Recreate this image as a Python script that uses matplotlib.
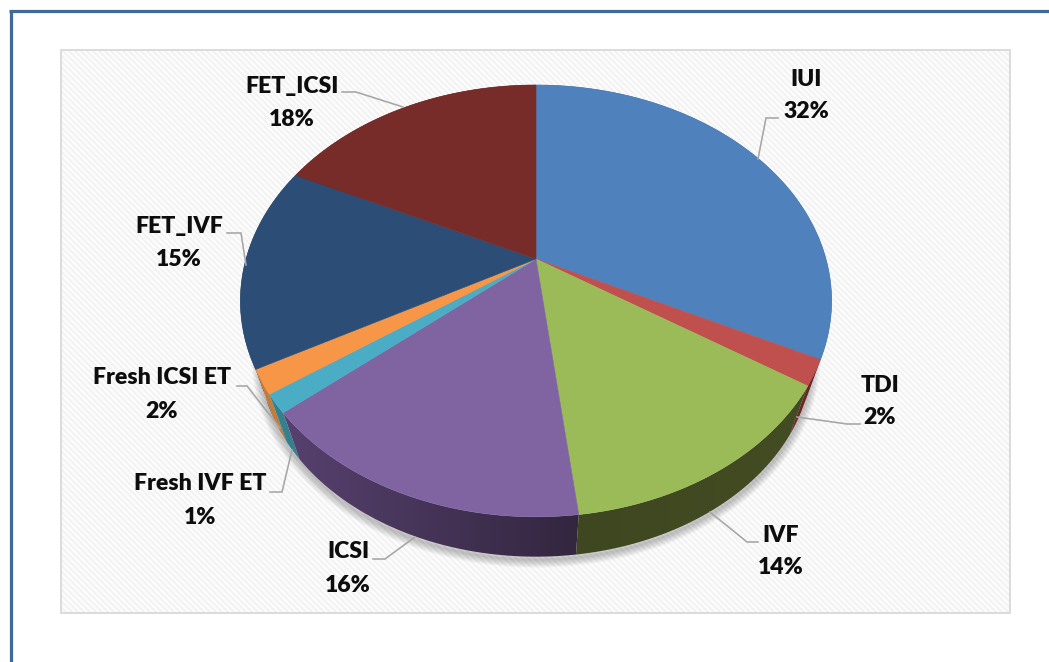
import numpy as np
import matplotlib
matplotlib.use("Agg")
import matplotlib.pyplot as plt
from matplotlib.patches import Polygon, Rectangle
from matplotlib.collections import LineCollection

categories = ["IUI", "TDI", "IVF", "ICSI", "Fresh IVF ET", "Fresh ICSI ET", "FET_IVF", "FET_ICSI"]
shares = [32.3, 1.9, 13.9, 15.7, 1.4, 1.8, 15.2, 17.8]
top_colors = ["#4f81bd", "#c0504d", "#9bbb59", "#8064a2", "#4bacc6", "#f79646", "#2c4d75", "#772c2a"]
side_colors = [("#2f4d71", "#2f4d71"), ("#6e2523", "#6e2523"), ("#3e4720", "#434c22"),
               ("#57416f", "#33263f"), ("#35808f", "#35808f"), ("#c67b36", "#c67b36"),
               ("#1c3350", "#1c3350"), ("#4d1c1b", "#4d1c1b")]
label_pos = [(806, 79), (880, 385), (781, 535), (348, 552), (200, 484), (162, 378), (179, 226), (292, 86)]
leaders = [[(778, 118), (766, 118), (758, 159)],
           [(860, 424), (847, 424), (797, 417)],
           [(758, 542), (747, 542), (710, 512)],
           [(373, 559), (385, 559), (415, 537)],
           [(270, 492), (282, 492), (292, 450)],
           [(237, 386), (247, 386), (280, 428)],
           [(227, 233), (241, 233), (246, 265)],
           [(342, 92), (356, 92), (403, 107)]]

CX, CY, A, B, K = 536.0, 259.0, 290.0, 207.8, 0.194
VY, S = 1130.0, 0.935


def rim(theta):
    u, v = np.sin(theta), np.cos(theta)
    w = 1 + K * v
    return CX + A * u / w, CY - B * v / w


def lower(x, y):
    return CX + S * (x - CX), VY + S * (y - VY)


fig = plt.figure(figsize=(10.49, 6.62), dpi=100)
ax = fig.add_axes([0, 0, 1, 1])
px = 0.72

# frame
ax.plot([10.5, 10.5], [662, 10.5], color="#41699b", lw=3.2 * px, solid_capstyle="butt")
ax.plot([9, 1049], [10.5, 10.5], color="#41699b", lw=3.2 * px, solid_capstyle="butt")

# plot area
area = Rectangle((61, 50), 949, 563, fc="white", ec="none", zorder=1)
ax.add_patch(area)
stripes = [[(c, 50), (c + 563, 613)] for c in np.arange(61 - 563, 1010, 6.0)]
lc = LineCollection(stripes, colors="#f3f3f3", linewidths=2.6 * px, zorder=1.1)
ax.add_collection(lc)
lc.set_clip_path(area)
ax.add_patch(Rectangle((61, 50), 949, 563, fc="none", ec="#d9d9d9", lw=1.8 * px, zorder=1.2))

fractions = np.cumsum([0] + shares) / sum(shares) * 2 * np.pi

# soft shadow
t = np.linspace(0, 2 * np.pi, 400)
xs, ys = rim(t)
xl, yl = lower(xs, ys)
for w_px in np.arange(16, 0, -2):
    ax.add_patch(Polygon(np.c_[xl, yl + 3], closed=True, fc="none", ec="black",
                         lw=w_px * px, alpha=0.03, zorder=1.5))

# side walls, back to front, each filled by a horizontal gradient
order = sorted(range(len(shares)), key=lambda i: -np.cos((fractions[i] + fractions[i + 1]) / 2))
for rank, i in enumerate(order):
    seg = np.linspace(fractions[i], fractions[i + 1], 200)
    x, y = rim(seg)
    xb, yb = lower(x, y)
    pts = np.r_[np.c_[x, y], np.c_[xb, yb][::-1]]
    c0 = np.array(matplotlib.colors.to_rgb(side_colors[i][0]))
    c1 = np.array(matplotlib.colors.to_rgb(side_colors[i][1]))
    ramp = np.linspace(0, 1, 256)[None, :, None]
    img = c0[None, None, :] + (c1 - c0)[None, None, :] * ramp
    poly = Polygon(pts, closed=True, fc="none", ec="none", transform=ax.transData)
    ax.add_patch(poly)
    im = ax.imshow(img, extent=(pts[:, 0].min(), pts[:, 0].max(), pts[:, 1].max(), pts[:, 1].min()),
                   aspect="auto", zorder=2 + rank * 0.01, interpolation="bilinear")
    im.set_clip_path(poly)

ax.set_xlim(0, 1049)
ax.set_ylim(662, 0)
ax.axis("off")

# top faces
for i, (a0, a1) in enumerate(zip(fractions[:-1], fractions[1:])):
    seg = np.linspace(a0, a1, 200)
    x, y = rim(seg)
    pts = np.r_[[[CX, CY]], np.c_[x, y]]
    ax.add_patch(Polygon(pts, closed=True, fc=top_colors[i], ec=top_colors[i], lw=0.4, zorder=3))

# leaders and labels
for pts in leaders:
    p = np.array(pts)
    ax.plot(p[:, 0], p[:, 1], color="#a6a6a6", lw=1.6 * px, zorder=4, solid_joinstyle="miter")
for name, val, (lx, ly) in zip(categories, shares, label_pos):
    for s, yy in ((name, ly), (f"{round(val)}%", ly + 33)):
        ax.text(lx, yy, s, ha="center", va="center", fontsize=16.6, fontweight="heavy",
                family="Lato", color="#0d0d0d", zorder=5)

fig.savefig("out.png", dpi=100)
